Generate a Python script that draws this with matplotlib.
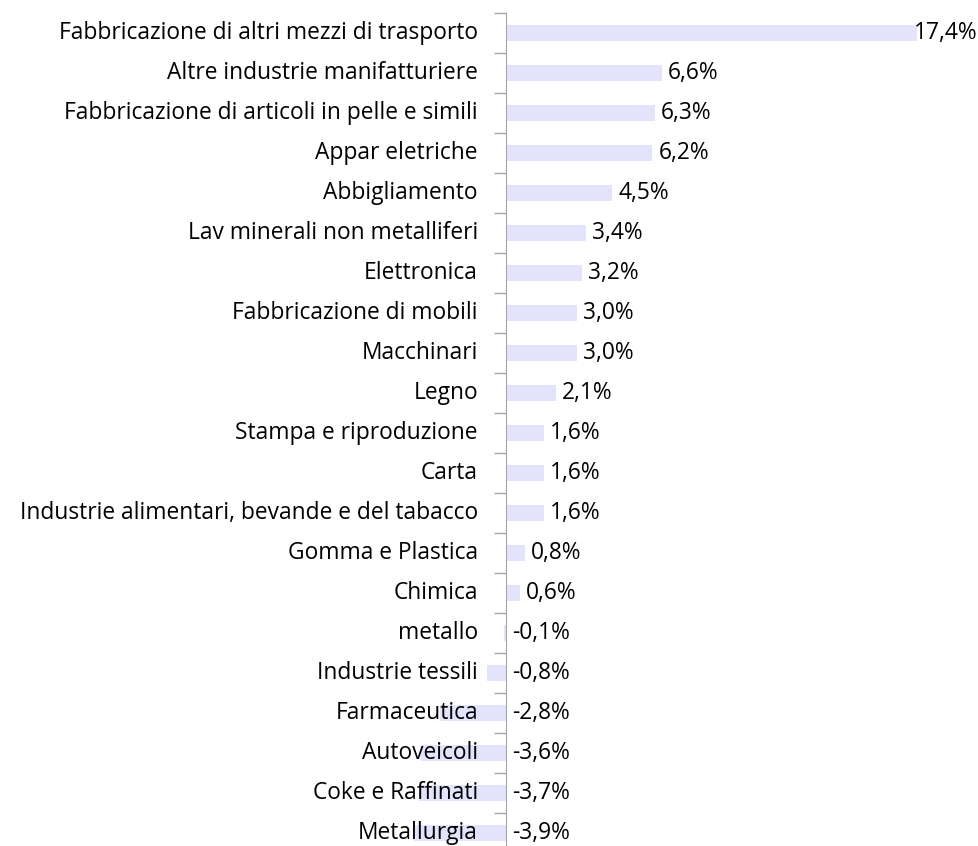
import matplotlib.pyplot as plt
from matplotlib.transforms import offset_copy

categories = [
    "Fabbricazione di altri mezzi di trasporto",
    "Altre industrie manifatturiere",
    "Fabbricazione di articoli in pelle e simili",
    "Appar eletriche",
    "Abbigliamento",
    "Lav minerali non metalliferi",
    "Elettronica",
    "Fabbricazione di mobili",
    "Macchinari",
    "Legno",
    "Stampa e riproduzione",
    "Carta",
    "Industrie alimentari, bevande e del tabacco",
    "Gomma e Plastica",
    "Chimica",
    "metallo",
    "Industrie tessili",
    "Farmaceutica",
    "Autoveicoli",
    "Coke e Raffinati",
    "Metallurgia",
]
values = [17.4, 6.6, 6.3, 6.2, 4.5, 3.4, 3.2, 3.0, 3.0, 2.1, 1.6, 1.6, 1.6,
          0.8, 0.6, -0.1, -0.8, -2.8, -3.6, -3.7, -3.9]

W, H = 979, 846
fig = plt.figure(figsize=(W / 100, H / 100), dpi=100)

# axis at x=506px, ~23.6 px per percent point
px = 23.6
x0, x1 = -5, 18
left = 506 + x0 * px
right = 506 + x1 * px
top = 13
bottom = 853
ax = fig.add_axes([left / W, (H - bottom) / H, (right - left) / W, (bottom - top) / H])

ys = list(range(len(categories)))
ax.barh(ys, values, height=0.39, color="#E3E3FB", zorder=1)
ax.set_xlim(x0, x1)
ax.set_ylim(len(categories) - 0.5, -0.5)

for s in ["top", "right", "bottom"]:
    ax.spines[s].set_visible(False)
ax.spines["left"].set_position(("data", 0))
ax.spines["left"].set_color("#A6A6A6")
ax.spines["left"].set_zorder(2)
ax.set_xticks([])
ax.set_yticks([i - 0.5 for i in range(len(categories))])
ax.set_yticklabels([])
ax.tick_params(axis="y", direction="out", length=9, color="#A6A6A6", width=1)

font = "Open Sans"
fs = 16.4
lab_tr = offset_copy(ax.transData, fig=fig, x=-28, y=0, units="dots")
for y, c in zip(ys, categories):
    ax.text(0, y, c, transform=lab_tr, ha="right", va="center",
            fontsize=fs, family=font, color="#000000", zorder=3)

renderer = fig.canvas.get_renderer()
for y, v in zip(ys, values):
    xpos = v if v > 0 else 0
    tr = offset_copy(ax.transData, fig=fig, x=6, y=0, units="dots")
    t = ax.text(xpos, y, f"{v:.1f}%".replace(".", ","), transform=tr,
                ha="left", va="center", fontsize=fs, family=font, zorder=3)
    # keep label inside the figure, like the spreadsheet does
    ext = t.get_window_extent(renderer)
    if ext.x1 > W - 1:
        shift = 6 - (ext.x1 - (W - 1))
        t.set_transform(offset_copy(ax.transData, fig=fig, x=shift, y=0, units="dots"))

fig.savefig("out.png", dpi=100)
